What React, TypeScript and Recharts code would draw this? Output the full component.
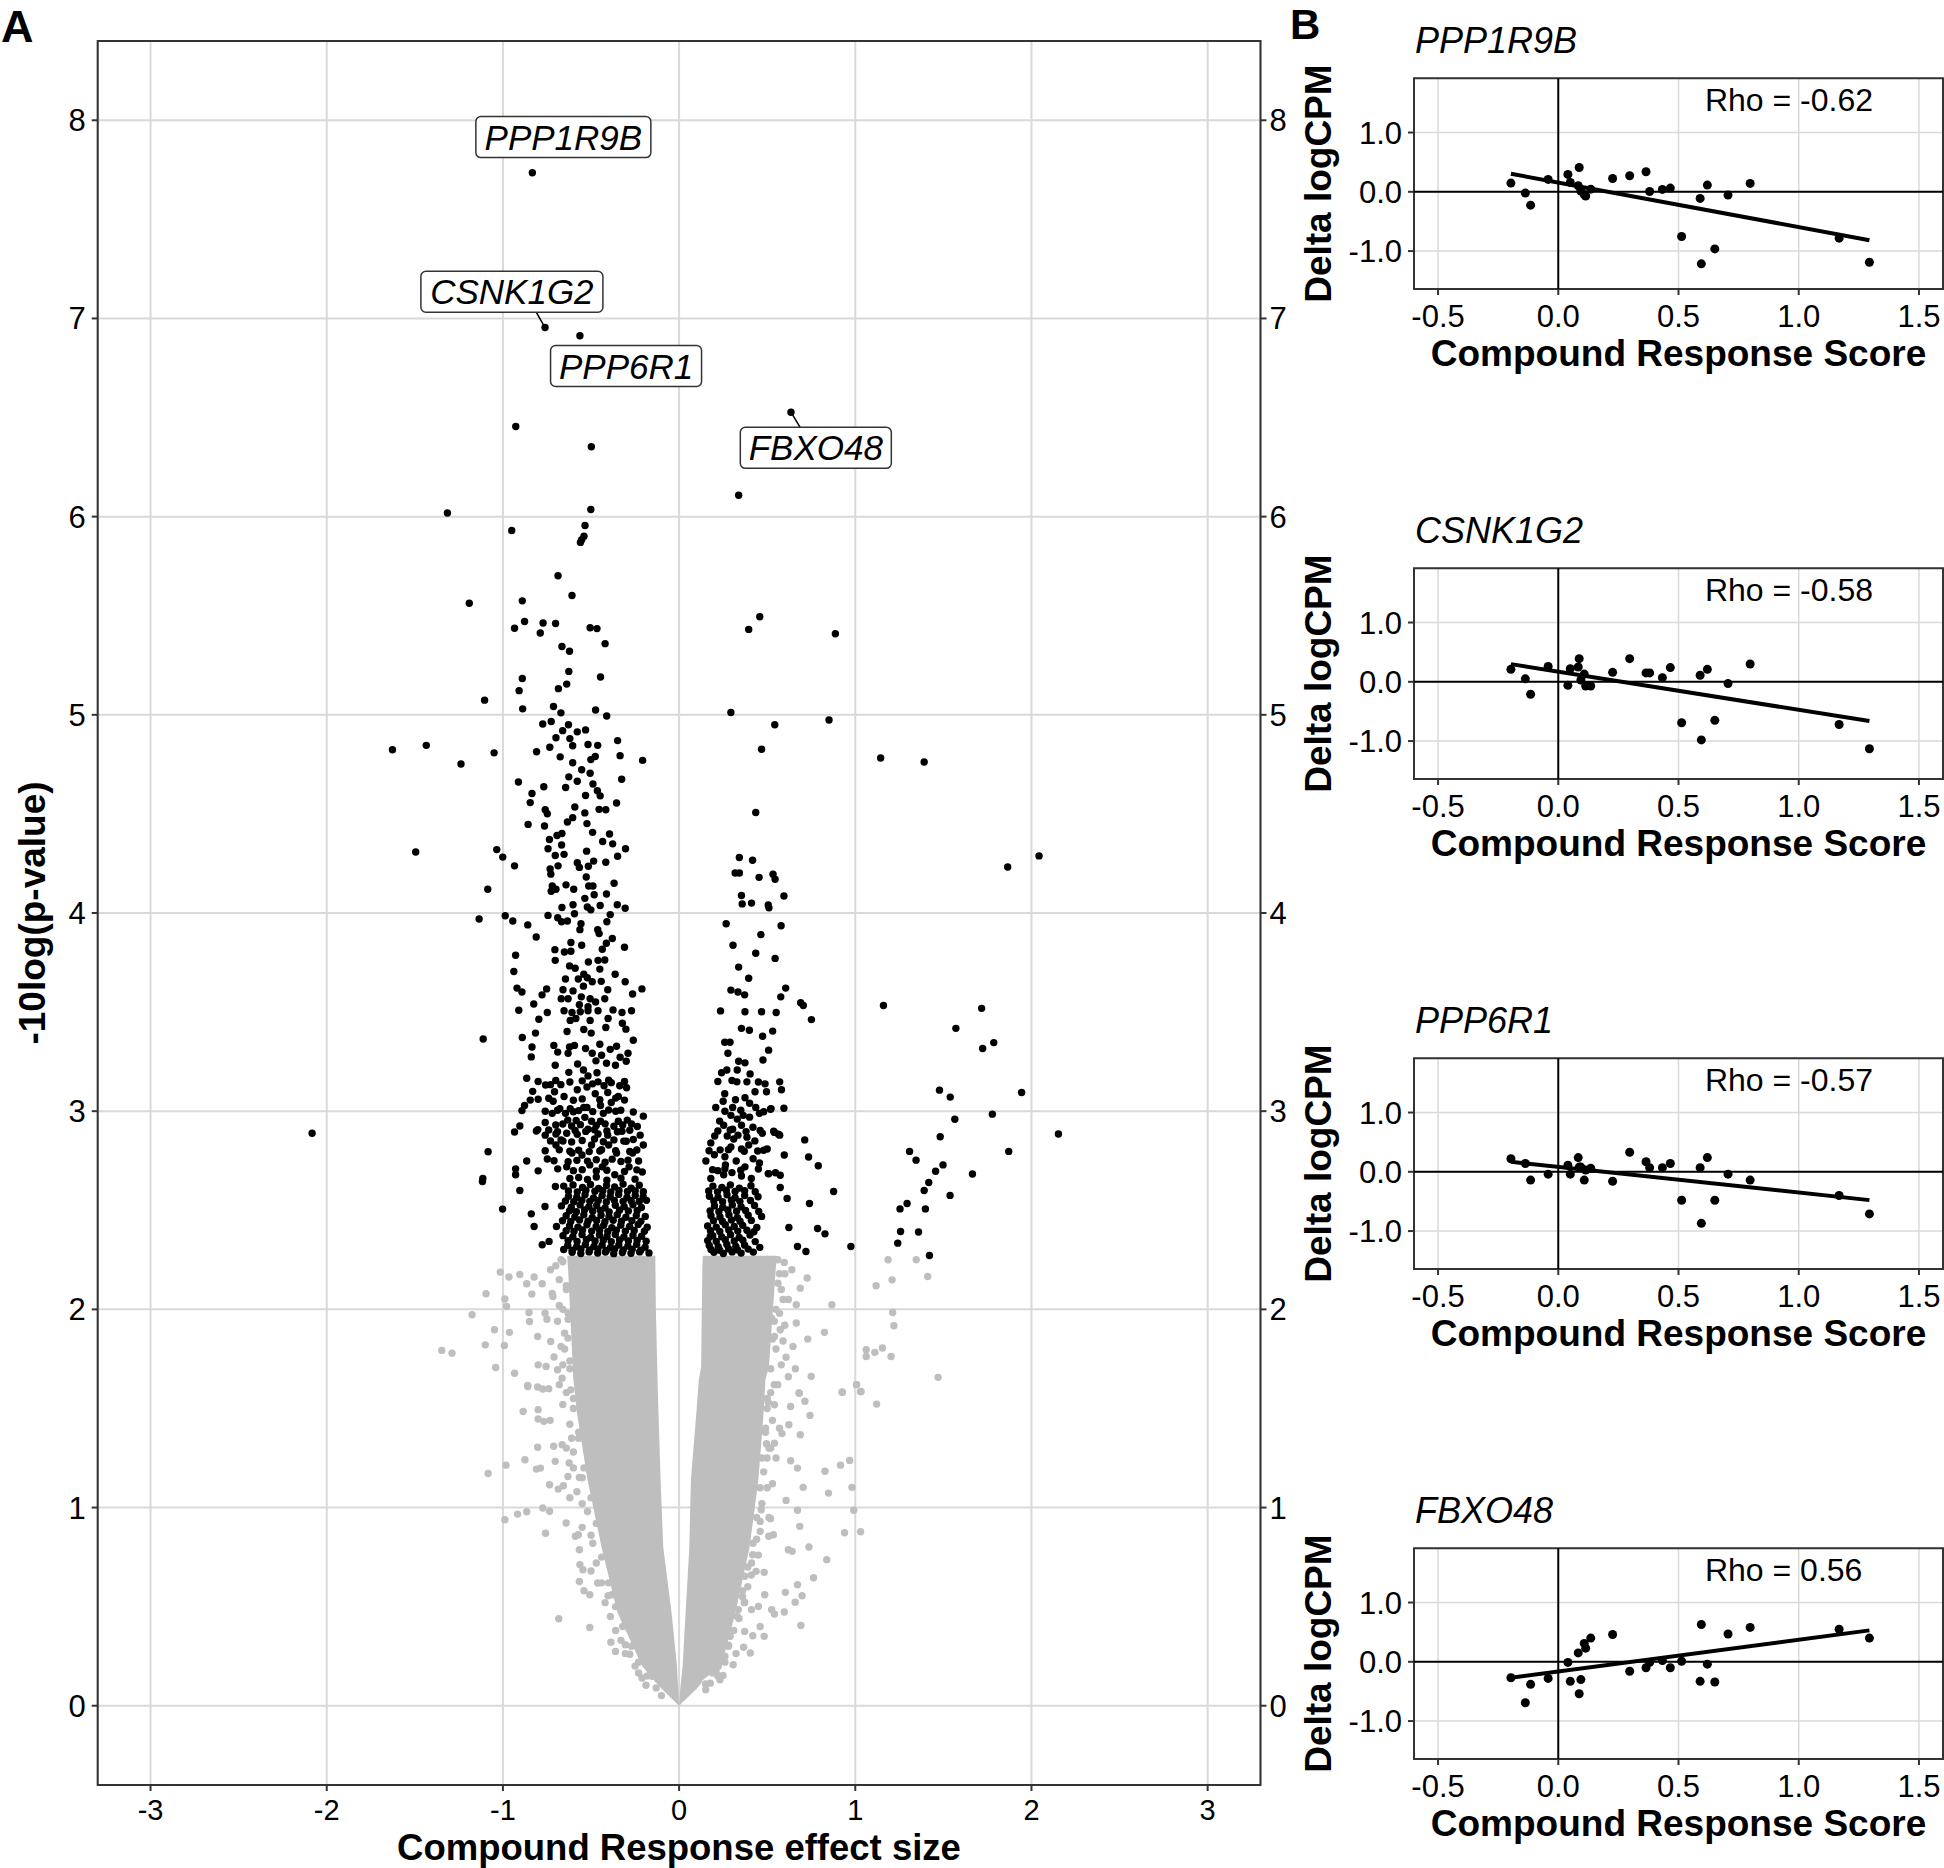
import React from 'react';
import {
  ComposedChart,
  Scatter,
  Area,
  Line,
  XAxis,
  YAxis,
  CartesianGrid,
  ReferenceLine,
  ReferenceArea,
} from 'recharts';

const FONT = '"Liberation Sans", Arial, Helvetica, sans-serif';
const GREY = '#BEBEBE';
const BORDER = '#333333';
const GRID = '#D9D9D9';

// ---------------- Panel A data ----------------
const volcanoXTicks = [-3, -2, -1, 0, 1, 2, 3];
const volcanoYTicks = [0, 1, 2, 3, 4, 5, 6, 7, 8];

// significant genes (black)
const sigTop: [number, number][] = [
  [-0.833, 7.735], [-0.761, 6.954], [-0.563, 6.913], [0.635, 6.527], [-0.927, 6.455], [-0.498, 6.353],
  [0.338, 6.108], [-1.315, 6.018], [-0.501, 6.036], [-0.95, 5.93], [-0.534, 5.955], [-0.54, 5.901],
  [-0.553, 5.883], [-0.56, 5.87],
];

const sigLeft: [number, number][] = [
  [-0.687,5.702],[-0.608,5.602],[-1.191,5.563],[-0.890,5.575],[-0.934,5.437],[-0.877,5.471],[-0.772,5.463],[-0.788,5.413],[-0.701,5.461],[-0.505,5.439],[-0.466,5.435],[-0.420,5.359],[-0.665,5.345],[-0.622,5.321],[-0.626,5.219],[-0.890,5.183],[-0.446,5.191],[-0.638,5.155],[-0.685,5.132],[-0.908,5.122],[-1.104,5.074],[-0.888,5.030],[-0.713,5.042],[-0.671,5.010],[-0.474,5.024],[-0.411,4.994],[-0.774,4.954],[-0.726,4.966],[-0.628,4.950],[-0.578,4.914],[-0.531,4.924],[-0.661,4.920],[-0.699,4.884],[-0.620,4.880],[-0.604,4.844],[-0.734,4.836],[-0.517,4.850],[-0.462,4.846],[-0.349,4.870],[-1.627,4.824],[-1.435,4.846],[-1.238,4.752],[-1.050,4.808],[-0.809,4.814],[-0.675,4.788],[-0.476,4.790],[-0.501,4.774],[-0.335,4.794],[-0.207,4.770],[-0.604,4.758],[-0.553,4.723],[-0.505,4.705],[-0.626,4.687],[-0.578,4.665],[-0.912,4.661],[-0.768,4.637],[-0.644,4.633],[-0.489,4.651],[-0.326,4.675],[-0.835,4.603],[-0.531,4.593],[-0.464,4.617],[-0.448,4.591],[-0.845,4.557],[-0.355,4.555],[-0.592,4.535],[-0.454,4.523],[-0.416,4.521],[-0.760,4.521],[-0.748,4.501],[-0.535,4.505],[-0.604,4.481],[-0.634,4.459],[-0.857,4.447],[-0.764,4.439],[-0.523,4.451],[-0.665,4.401],[-0.693,4.391],[-0.491,4.407],[-0.395,4.399],[-0.736,4.371],[-0.434,4.361],[-0.377,4.349],[-0.667,4.343],[-0.744,4.324],[-0.525,4.312],[-0.304,4.324],[-1.495,4.308],[-1.035,4.320],[-1.001,4.282],[-0.703,4.290],[-0.653,4.296],[-0.349,4.286],[-0.934,4.238],[-0.578,4.254],[-0.485,4.262],[-0.416,4.256],[-0.732,4.222],[-0.687,4.238],[-0.566,4.230],[-0.515,4.236],[-0.728,4.196],[-0.527,4.182],[-1.086,4.120],[-0.720,4.136],[-0.642,4.142],[-0.598,4.120],[-0.513,4.136],[-0.489,4.136],[-0.369,4.150],[-0.726,4.110],[-0.699,4.120],[-0.535,4.074],[-0.482,4.092],[-0.412,4.096],[-0.665,4.028],[-0.602,4.042],[-0.521,4.030],[-0.448,4.038],[-0.351,4.042],[-0.306,4.024],[-1.135,3.970],[-0.987,3.986],[-0.944,3.960],[-0.859,3.940],[-0.744,3.988],[-0.689,3.976],[-0.667,3.956],[-0.634,3.960],[-0.594,3.996],[-0.557,3.946],[-0.501,4.016],[-0.391,3.992],[-0.410,3.956],[-0.811,3.879],[-0.563,3.916],[-0.462,3.916],[-0.454,3.896],[-0.413,3.847],[-0.379,3.871],[-0.310,3.827],[-0.614,3.851],[-0.553,3.837],[-0.705,3.815],[-0.651,3.803],[-0.614,3.807],[-0.436,3.817],[-0.928,3.787],[-0.703,3.761],[-0.622,3.733],[-0.515,3.753],[-0.460,3.761],[-0.422,3.763],[-0.938,3.705],[-0.590,3.721],[-0.541,3.691],[-0.450,3.717],[-0.363,3.691],[-0.645,3.667],[-0.572,3.667],[-0.521,3.673],[-0.493,3.653],[-0.442,3.655],[-0.306,3.653],[-0.920,3.621],[-0.892,3.601],[-0.752,3.617],[-0.659,3.613],[-0.602,3.607],[-0.543,3.631],[-0.405,3.613],[-0.264,3.591],[-0.211,3.617],[-0.778,3.587],[-0.669,3.567],[-0.630,3.567],[-0.555,3.577],[-0.505,3.567],[-0.422,3.567],[-0.825,3.541],[-0.566,3.537],[-0.517,3.527],[-0.474,3.551],[-0.910,3.509],[-0.748,3.498],[-0.653,3.507],[-0.608,3.498],[-0.561,3.502],[-0.517,3.507],[-0.460,3.507],[-0.375,3.511],[-0.324,3.498],[-0.270,3.507],[-0.796,3.464],[-0.618,3.458],[-0.586,3.468],[-0.505,3.458],[-0.403,3.468],[-0.322,3.444],[-0.636,3.402],[-0.541,3.412],[-0.499,3.394],[-0.416,3.422],[-1.112,3.364],[-0.815,3.394],[-0.890,3.372],[-0.302,3.414],[-0.260,3.358],[-0.835,3.324],[-0.711,3.332],[-0.622,3.324],[-0.594,3.332],[-0.531,3.316],[-0.450,3.338],[-0.391,3.312],[-0.355,3.328],[-0.839,3.274],[-0.689,3.298],[-0.630,3.292],[-0.493,3.292],[-0.440,3.282],[-0.290,3.292],[-0.335,3.272],[-0.576,3.238],[-0.472,3.254],[-0.412,3.242],[-0.361,3.232],[-0.300,3.252],[-0.703,3.232],[-0.626,3.196],[-0.543,3.208],[-0.466,3.194],[-0.517,3.178],[-0.865,3.166],[-0.758,3.132],[-0.730,3.134],[-0.671,3.134],[-0.578,3.108],[-0.523,3.122],[-0.491,3.138],[-0.426,3.128],[-0.385,3.144],[-0.337,3.128],[-0.831,3.100],[-0.707,3.098],[-0.653,3.074],[-0.476,3.088],[-0.405,3.094],[-0.345,3.074],[-0.298,3.118],[-0.877,3.029],[-0.845,3.056],[-0.715,3.050],[-0.677,3.013],[-0.618,3.013],[-0.541,3.019],[-0.523,3.019],[-0.446,3.029],[-0.385,3.044],[-0.331,3.005],[-0.892,3.003],[-0.720,2.989],[-0.645,2.989],[-0.430,2.989],[-0.203,2.975],[-2.083,2.889],[-1.084,2.795],[-0.904,2.925],[-0.934,2.895],[-0.802,2.907],[-0.760,2.943],[-0.632,2.955],[-0.584,2.953],[-0.535,2.969],[-0.497,2.949],[-0.446,2.949],[-0.345,2.949],[-0.294,2.955],[-0.237,2.923],[-0.760,2.879],[-0.699,2.885],[-0.638,2.889],[-0.578,2.883],[-0.517,2.909],[-0.460,2.885],[-0.405,2.879],[-0.324,2.899],[-0.221,2.879],[-0.865,2.749],[-0.800,2.699],[-0.748,2.759],[-0.699,2.829],[-0.659,2.849],[-0.608,2.789],[-0.551,2.779],[-0.497,2.829],[-0.450,2.799],[-0.400,2.829],[-0.355,2.789],[-0.314,2.849],[-0.264,2.789],[-0.203,2.829],[-0.209,2.693],[-0.928,2.709],[-0.928,2.679],[-0.689,2.709],[-0.638,2.719],[-0.507,2.729],[-0.436,2.719],[-0.365,2.679],[-0.284,2.719],[-1.114,2.660],
  [-1.116,2.645],[-1.002,2.506],[-0.904,2.600],[-0.839,2.482],[-0.823,2.418],[-0.777,2.326],[-0.738,2.343],[-0.761,2.519],[-0.696,2.418],[-0.702,2.620],
  [-0.62,2.66],[-0.57,2.665],[-0.52,2.655],[-0.47,2.668],[-0.41,2.652],[-0.33,2.662],[-0.25,2.657],
  [-0.60,2.70],[-0.55,2.705],[-0.47,2.698],[-0.41,2.702],[-0.31,2.696],[-0.24,2.704],
  [-0.71,2.75],[-0.63,2.745],[-0.58,2.752],[-0.52,2.748],[-0.47,2.755],[-0.42,2.742],[-0.38,2.758],[-0.33,2.746],[-0.29,2.753],[-0.23,2.749],
  [-0.76,2.80],[-0.68,2.805],[-0.62,2.798],[-0.57,2.803],[-0.51,2.796],[-0.44,2.806],[-0.36,2.8],[-0.28,2.797],[-0.24,2.804],
  [-0.73,2.85],[-0.67,2.855],[-0.61,2.845],[-0.55,2.852],[-0.48,2.86],[-0.43,2.846],[-0.37,2.855],[-0.3,2.848],[-0.26,2.857],
  [-0.81,2.90],[-0.74,2.905],[-0.69,2.897],[-0.59,2.903],[-0.53,2.898],[-0.48,2.906],[-0.41,2.9],[-0.35,2.896],[-0.28,2.904],
  [-0.70,2.93],[-0.66,2.935],[-0.61,2.925],[-0.56,2.932],[-0.47,2.928],[-0.42,2.936],[-0.37,2.924],[-0.32,2.93],[-0.27,2.935],
  [-0.76,3.0],[-0.69,3.005],[-0.60,2.997],[-0.57,3.003],[-0.49,2.998],[-0.40,3.006],[-0.36,3.0],[-0.26,2.996],
  [-0.8,3.06],[-0.74,3.065],[-0.6,3.055],[-0.55,3.062],[-0.45,3.058],[-0.36,3.066],[-0.31,3.056],
  [-0.80,3.15],[-0.70,3.155],[-0.62,3.147],[-0.55,3.153],[-0.46,3.148],[-0.40,3.156],[-0.31,3.15],
];

const sigLeftBase: [number, number][] = [
  [-0.655,2.622],[-0.602,2.628],[-0.548,2.615],[-0.503,2.63],[-0.457,2.61],[-0.412,2.625],[-0.366,2.618],[-0.318,2.632],[-0.272,2.612],[-0.226,2.626],
  [-0.628,2.597],[-0.578,2.593],[-0.529,2.601],[-0.478,2.596],[-0.433,2.599],[-0.388,2.592],[-0.341,2.6],[-0.293,2.595],[-0.249,2.598],[-0.203,2.594],
  [-0.628,2.571],[-0.581,2.566],[-0.534,2.578],[-0.486,2.562],[-0.437,2.574],[-0.391,2.569],[-0.343,2.58],[-0.296,2.565],[-0.249,2.575],[-0.204,2.568],
  [-0.645,2.547],[-0.598,2.543],[-0.552,2.551],[-0.507,2.545],[-0.459,2.549],[-0.413,2.542],[-0.368,2.55],[-0.318,2.545],[-0.272,2.548],[-0.226,2.544],[-0.185,2.55],
  [-0.668,2.522],[-0.612,2.515],[-0.562,2.527],[-0.512,2.518],[-0.468,2.524],[-0.42,2.512],[-0.362,2.525],[-0.312,2.519],[-0.262,2.528],[-0.214,2.514],
  [-0.622,2.497],[-0.583,2.493],[-0.537,2.501],[-0.49,2.495],[-0.446,2.499],[-0.397,2.492],[-0.338,2.5],[-0.288,2.496],[-0.238,2.498],
  [-0.641,2.472],[-0.592,2.466],[-0.541,2.477],[-0.493,2.463],[-0.443,2.475],[-0.398,2.468],[-0.351,2.478],[-0.302,2.465],[-0.243,2.473],[-0.192,2.469],
  [-0.662,2.447],[-0.615,2.443],[-0.565,2.451],[-0.517,2.445],[-0.468,2.449],[-0.421,2.442],[-0.374,2.45],[-0.327,2.445],[-0.268,2.448],[-0.217,2.444],
  [-0.622,2.421],[-0.574,2.415],[-0.523,2.427],[-0.471,2.418],[-0.428,2.424],[-0.382,2.412],[-0.331,2.425],[-0.281,2.419],[-0.232,2.428],[-0.181,2.414],
  [-0.641,2.397],[-0.597,2.393],[-0.548,2.401],[-0.496,2.395],[-0.451,2.399],[-0.405,2.392],[-0.356,2.4],[-0.305,2.395],[-0.255,2.398],[-0.197,2.394],
  [-0.659,2.372],[-0.603,2.366],[-0.551,2.377],[-0.502,2.363],[-0.452,2.375],[-0.409,2.368],[-0.362,2.378],[-0.313,2.365],[-0.262,2.373],[-0.213,2.369],
  [-0.63,2.347],[-0.579,2.343],[-0.526,2.351],[-0.477,2.345],[-0.43,2.349],[-0.385,2.342],[-0.338,2.35],[-0.288,2.345],[-0.238,2.348],[-0.187,2.344],
  [-0.632,2.322],[-0.581,2.316],[-0.532,2.327],[-0.483,2.318],[-0.437,2.324],[-0.389,2.312],[-0.342,2.325],[-0.291,2.319],[-0.241,2.328],[-0.193,2.314],
  [-0.655,2.302],[-0.607,2.298],[-0.557,2.305],[-0.508,2.3],[-0.461,2.304],[-0.413,2.297],[-0.366,2.305],[-0.317,2.3],[-0.266,2.303],[-0.217,2.299],
  [-0.607,2.288],[-0.558,2.282],[-0.511,2.29],[-0.462,2.284],[-0.418,2.289],[-0.371,2.281],[-0.322,2.287],[-0.273,2.283],[-0.224,2.29],[-0.171,2.285],
];

const sigRight: [number, number][] = [
  [0.458,5.495],[0.395,5.431],[0.887,5.409],[0.294,5.012],[0.543,4.950],[0.851,4.974],[0.468,4.826],[0.435,4.507],[0.342,4.280],[0.417,4.266],[0.318,4.202],[0.342,4.202],[0.454,4.180],[0.533,4.196],[0.545,4.170],[0.595,4.086],[0.354,4.088],[0.358,4.046],[0.411,4.050],[0.506,4.040],[0.510,4.026],[0.267,3.946],[0.579,3.936],[0.464,3.891],[0.306,3.837],[0.435,3.797],[0.545,3.771],[0.338,3.727],[0.395,3.671],[0.294,3.611],[0.334,3.601],[0.372,3.587],[0.605,3.621],[0.577,3.577],[0.690,3.547],[0.705,3.533],[0.751,3.462],[0.235,3.506],[0.374,3.502],[0.468,3.502],[0.551,3.498],[0.354,3.418],[0.399,3.408],[0.474,3.378],[0.531,3.404],[0.259,3.348],[0.289,3.348],[0.277,3.292],[0.508,3.308],[0.338,3.252],[0.374,3.244],[0.476,3.258],[0.241,3.194],[0.271,3.208],[0.330,3.208],[0.403,3.188],[0.488,3.138],[0.571,3.148],[0.328,3.148],[0.385,3.148],[0.431,3.098],[0.259,3.088],[0.320,3.058],[0.374,3.068],[0.496,3.098],[0.581,3.108],[0.208,3.019],[0.304,3.019],[0.435,3.019],[0.522,3.013],[0.595,3.015],[0.294,2.979],[0.364,2.979],[0.456,2.989],[0.253,2.929],[0.304,2.909],[0.354,2.929],[0.419,2.919],[0.202,2.875],[0.273,2.875],[0.334,2.879],[0.385,2.869],[0.472,2.889],[0.537,2.899],[0.571,2.879],[0.713,2.855],[0.233,2.805],[0.294,2.819],[0.354,2.809],[0.395,2.829],[0.446,2.799],[0.500,2.809],[0.597,2.779],[0.735,2.769],[0.790,2.725],[0.152,2.749],[0.263,2.729],[0.324,2.749],[0.374,2.719],[0.456,2.739],[0.547,2.689],[0.253,2.679],[0.354,2.673],[0.506,2.685],
  [0.177,2.368],[0.877,2.595],[0.740,2.534],[0.786,2.408],[0.828,2.381],[0.672,2.317],[0.720,2.292],[0.975,2.317],[0.623,2.413],[0.613,2.560],[0.574,2.615],[0.509,2.684],[0.574,2.677],[0.541,2.893],[0.564,2.884],[0.519,3.010],
  [0.18,2.66],[0.22,2.7],[0.3,2.69],[0.41,2.66],[0.2,2.78],[0.26,2.77],[0.42,2.76],[0.18,2.84],[0.31,2.86],[0.43,2.85],[0.23,2.95],[0.33,2.96],[0.4,2.97],[0.25,3.05],[0.4,3.04],
  [0.19,2.705],[0.26,2.71],[0.35,2.702],[0.45,2.708],[0.17,2.80],[0.28,2.806],[0.37,2.798],[0.48,2.803],[0.22,2.90],[0.29,2.905],[0.38,2.897],[0.46,2.903],[0.26,3.0],[0.35,3.005],[0.48,2.997],[0.22,3.15],[0.30,3.155],[0.45,3.147],
  [0.192,2.622],[0.243,2.615],[0.291,2.628],[0.342,2.612],[0.408,2.624],
  [0.168,2.597],[0.218,2.593],[0.268,2.601],[0.318,2.595],[0.372,2.599],[0.432,2.594],
  [0.172,2.571],[0.221,2.566],[0.272,2.578],[0.318,2.563],[0.372,2.574],[0.448,2.568],
  [0.197,2.547],[0.247,2.543],[0.297,2.551],[0.345,2.545],[0.405,2.549],
  [0.201,2.522],[0.248,2.515],[0.302,2.527],[0.352,2.518],[0.428,2.524],
  [0.176,2.497],[0.226,2.493],[0.277,2.501],[0.326,2.495],[0.377,2.499],[0.452,2.494],
  [0.181,2.472],[0.232,2.466],[0.283,2.477],[0.331,2.463],[0.392,2.475],[0.468,2.469],
  [0.195,2.447],[0.246,2.443],[0.297,2.451],[0.346,2.445],[0.41,2.449],
  [0.162,2.421],[0.211,2.415],[0.262,2.427],[0.313,2.418],[0.361,2.424],[0.441,2.413],
  [0.178,2.397],[0.231,2.393],[0.282,2.401],[0.333,2.395],[0.385,2.399],[0.425,2.392],
  [0.191,2.372],[0.242,2.366],[0.292,2.377],[0.341,2.363],[0.402,2.375],
  [0.162,2.347],[0.211,2.343],[0.262,2.351],[0.313,2.345],[0.362,2.349],[0.432,2.342],
  [0.171,2.322],[0.222,2.316],[0.271,2.327],[0.322,2.318],[0.372,2.324],[0.458,2.313],
  [0.181,2.302],[0.231,2.298],[0.281,2.305],[0.332,2.3],[0.392,2.304],
  [0.198,2.288],[0.251,2.282],[0.301,2.29],[0.352,2.284],[0.421,2.289],
];

const sigFarRight: [number, number][] = [
  [1.144,4.782],[1.391,4.762],[1.865,4.232],[2.043,4.288],[1.160,3.533],[1.717,3.519],[1.571,3.418],[1.786,3.346],[1.723,3.316],[1.478,3.106],[1.539,3.071],[1.944,3.094],[1.565,2.959],[1.778,2.985],[1.482,2.871],[2.153,2.885],[1.308,2.797],[1.345,2.753],[1.871,2.797],[1.498,2.729],[1.456,2.697],[1.665,2.683],[1.417,2.640],[1.391,2.600],[1.538,2.575],[1.294,2.534],[1.254,2.507],[1.398,2.507],[1.257,2.393],[1.359,2.390],[1.241,2.334],[1.421,2.272],
];

// non-significant genes (grey)
const nsOutliers: [number, number][] = [
  [1.186,2.25],[1.346,2.25],[1.411,2.166],[1.209,2.149],[1.118,2.119],[1.212,1.984],[1.219,1.917],[1.062,1.796],[1.111,1.783],[1.154,1.805],[1.203,1.762],[1.062,1.762],[1.47,1.657],[1.007,1.62],[1.03,1.584],[0.926,1.581],[0.867,2.023],[0.825,1.884],[0.75,1.662],[0.682,1.577],[0.727,2.158],[0.688,2.107],[0.665,2.023],[0.665,1.931],[0.73,1.85],[0.607,1.759],[0.646,1.813],[0.597,2.237],[0.561,2.132],[0.525,1.956],[0.574,1.897],[0.541,1.863],[0.509,2.065],
  [-1.015,2.188],[-1.096,2.079],[-1.175,1.973],[-1.347,1.793],[-1.289,1.779],[-1.1,1.821],[-1.041,1.707],[-0.989,2.052],[-0.979,2.015],[-1.048,1.897],[-0.963,1.884],[-0.992,1.818],[-0.934,1.678],[-0.966,2.163],[-0.904,2.176],[-0.865,2.129],[-0.823,2.163],[-0.836,2.077],[-0.852,1.984],[-0.849,1.939],[-0.803,1.863],[-0.761,1.981],[-0.777,2.129],[-0.716,2.065],[-0.859,1.616],[-0.803,1.608],[-0.8,1.72],[-0.755,1.712],[-0.729,1.838],[-0.69,1.695],[-0.664,1.653],[-0.67,1.813],[-0.631,1.855],[-0.615,1.594],
  [-1.084,1.172],[-0.983,1.214],[-0.989,0.939],[-0.917,0.967],[-0.865,0.979],[-0.774,0.998],[-0.735,0.981],[-0.758,0.870],[-0.641,0.922],[-0.683,0.439],[-0.507,0.395],[-0.875,1.241],[-0.803,1.304],[-0.810,1.194],[-0.787,1.199],[-0.885,1.485],[-0.800,1.494],[-0.800,1.447],[-0.768,1.435],[-0.732,1.440],[-0.859,1.611],[-0.774,1.598],[-0.712,1.309],[-0.664,1.317],[-0.703,1.233],[-0.735,1.115],[-0.686,1.093],[-0.657,1.110],[-0.631,1.157],[-0.566,1.152],[-0.624,1.225],[-0.572,0.863],[-0.589,0.855],[-0.566,0.787],[-0.563,0.712],[-0.546,0.686],[-0.566,0.627],[-0.540,0.580],[-0.507,0.560],[-0.462,0.619],[-0.403,0.555],[-0.387,0.320],[-0.361,0.274],[-0.305,0.263],[-0.305,0.308],[-0.230,0.165],[-0.188,0.103],[-0.149,0.148],[-0.100,0.051],
  [0.681,1.578],[0.714,1.536],[0.743,1.465],[0.926,1.583],[1.007,1.62],[1.033,1.586],[1.121,1.522],[0.506,1.531],[0.541,1.519],[0.633,1.510],[0.623,1.418],[0.584,1.373],[0.688,1.367],[0.541,1.325],[0.496,1.322],[0.499,1.250],[0.633,1.236],[0.672,1.199],[0.828,1.183],[0.916,1.214],[0.968,1.238],[0.704,1.102],[0.848,1.073],[0.981,1.102],[0.991,0.986],[0.607,1.036],[0.672,0.986],[0.466,0.989],[0.519,0.944],[0.685,0.905],[0.939,0.873],[1.030,0.878],[0.535,0.863],[0.509,0.855],[0.620,0.787],[0.642,0.779],[0.737,0.801],[0.838,0.737],[0.418,0.762],[0.411,0.720],[0.437,0.678],[0.483,0.673],[0.372,0.653],[0.763,0.646],[0.672,0.611],[0.603,0.572],[0.698,0.555],[0.486,0.560],[0.659,0.522],[0.372,0.522],[0.336,0.485],[0.411,0.485],[0.450,0.501],[0.597,0.473],[0.525,0.485],[0.541,0.463],[0.691,0.405],[0.460,0.400],[0.372,0.375],[0.418,0.353],[0.483,0.350],[0.281,0.305],[0.366,0.295],[0.323,0.263],[0.404,0.266],[0.239,0.224],[0.307,0.207],[0.222,0.199],[0.190,0.165],[0.249,0.153],[0.232,0.131],[0.177,0.114],[0.151,0.081],
];

const nsCoreEdge: [number, number][] = [
  [-0.64,2.1],[-0.63,1.95],[-0.62,1.7],[-0.6,1.55],[-0.57,1.35],[-0.54,1.2],[-0.5,1.05],[-0.47,0.92],[-0.44,0.75],[-0.4,0.62],[-0.36,0.5],[-0.32,0.4],[-0.27,0.3],[-0.23,0.22],[-0.18,0.15],[-0.13,0.09],
  [-0.66,2.24],[-0.68,2.02],[-0.65,1.8],[-0.61,1.35],[-0.55,1.02],[-0.49,0.82],[-0.38,0.56],
  [-0.70,2.22],[-0.68,2.15],[-0.72,2.08],[-0.66,2.0],[-0.69,1.94],[-0.65,1.88],[-0.71,1.76],[-0.66,1.72],[-0.68,1.62],[-0.64,1.58],[-0.73,2.2],[-0.67,2.25],[-0.64,2.12],[-0.63,1.98],[-0.62,1.74],[-0.75,1.95],[-0.74,1.6],
  [-0.6,1.5],[-0.62,1.42],[-0.57,1.38],[-0.6,1.28],[-0.55,1.15],[-0.58,1.08],[-0.52,0.98],[-0.55,0.9],[-0.5,0.86],[-0.47,0.72],[-0.5,0.68],[-0.44,0.62],[-0.42,0.52],[-0.39,0.45],[-0.36,0.38],[-0.33,0.33],[-0.28,0.26],[-0.25,0.2],[-0.21,0.14],[-0.66,1.52],[-0.64,1.3],[-0.6,1.2],[-0.62,1.05],
  [0.57,2.18],[0.55,2.0],[0.53,1.85],[0.52,1.7],[0.5,1.55],[0.49,1.4],[0.47,1.25],[0.46,1.1],[0.44,0.95],[0.42,0.82],[0.39,0.7],[0.36,0.58],[0.33,0.45],[0.29,0.35],[0.26,0.25],[0.21,0.17],[0.15,0.11],
  [0.59,2.05],[0.54,1.62],[0.51,1.3],[0.46,0.88],[0.37,0.52],
  [0.56,2.25],[0.6,2.18],[0.58,2.1],[0.62,2.05],[0.57,1.98],[0.6,1.92],[0.55,1.8],[0.58,1.72],[0.62,1.66],[0.56,1.62],[0.52,1.58],[0.64,2.2],[0.66,1.7],[0.54,1.94],[0.59,1.84],
  [0.5,1.5],[0.53,1.44],[0.49,1.38],[0.52,1.3],[0.48,1.18],[0.5,1.1],[0.47,1.02],[0.46,0.93],[0.44,0.84],[0.45,0.76],[0.41,0.66],[0.39,0.6],[0.36,0.55],[0.34,0.44],[0.31,0.38],[0.28,0.3],[0.26,0.22],[0.22,0.15],[0.55,1.25],[0.57,1.4],[0.53,1.12],[0.51,0.95],
];

// dense grey core of the volcano, read as band envelopes (x, lower y, upper y)
const coreLeftX = [-0.635, -0.63, -0.6, -0.58, -0.52, -0.44, -0.35, -0.21, -0.135, -0.132, -0.12, -0.105, -0.09, -0.043, -0.012, -0.006];
const coreLeftLow = [2.27, 2.2, 1.645, 1.48, 1.14, 0.8, 0.47, 0.2, 0.12, 0.118, 0.105, 0.092, 0.078, 0.037, 0.01, 0.005];
const coreLeftHigh = [2.27, 2.27, 2.27, 2.27, 2.27, 2.27, 2.27, 2.27, 2.27, 2.0, 1.56, 1.14, 0.8, 0.47, 0.2, 0.1];
const coreRightX = [0.006, 0.02, 0.037, 0.058, 0.067, 0.098, 0.112, 0.125, 0.132, 0.135, 0.24, 0.32, 0.4, 0.45, 0.48, 0.49, 0.51, 0.55, 0.555];
const coreRightLow = [0.005, 0.017, 0.031, 0.05, 0.058, 0.085, 0.098, 0.112, 0.126, 0.13, 0.2, 0.47, 0.8, 1.14, 1.48, 1.645, 1.71, 2.22, 2.27];
const coreRightHigh = [0.08, 0.2, 0.47, 0.8, 1.14, 1.48, 1.645, 1.71, 2.22, 2.27, 2.27, 2.27, 2.27, 2.27, 2.27, 2.27, 2.27, 2.27, 2.27];

// labelled genes
const labelGenes = ['PPP1R9B', 'CSNK1G2', 'PPP6R1', 'FBXO48'];
const labelX = [-0.657, -0.949, -0.301, 0.776];
const labelY = [7.915, 7.135, 6.76, 6.347];
const segFrom: [number, number][] = [[-0.761, 6.954], [0.635, 6.527]];
const segTo: [number, number][] = [[-0.81, 7.031], [0.687, 6.45]];

// ---------------- Panel B data ----------------
const crScore = [-0.197, -0.137, -0.115, -0.042, 0.04, 0.05, 0.083, 0.087, 0.094, 0.108, 0.114, 0.135, 0.226, 0.297, 0.365, 0.38, 0.433, 0.466, 0.513, 0.59, 0.595, 0.62, 0.651, 0.706, 0.798, 1.168, 1.294];
const dPPP1R9B = [0.147, -0.022, -0.225, 0.209, 0.293, 0.158, 0.102, 0.41, 0.012, -0.045, -0.07, 0.045, 0.225, 0.27, 0.338, 0.006, 0.04, 0.063, -0.754, -0.112, -1.216, 0.113, -0.963, -0.056, 0.141, -0.782, -1.188];
const dCSNK1G2 = [0.21, 0.05, -0.21, 0.26, -0.06, 0.22, 0.25, 0.39, 0.03, 0.13, -0.07, -0.07, 0.16, 0.39, 0.15, 0.15, 0.07, 0.24, -0.69, 0.11, -0.98, 0.21, -0.65, -0.03, 0.3, -0.72, -1.13];
const dPPP6R1 = [0.22, 0.14, -0.14, -0.04, 0.11, -0.04, 0.24, 0.08, 0.08, -0.14, 0.03, 0.06, -0.16, 0.33, 0.17, 0.07, 0.07, 0.14, -0.48, 0.07, -0.87, 0.24, -0.48, -0.04, -0.14, -0.4, -0.71];
const dFBXO48 = [-0.27, -0.69, -0.38, -0.28, -0.01, -0.33, 0.15, -0.54, -0.3, 0.31, 0.23, 0.4, 0.46, -0.16, -0.1, -0.01, 0.02, -0.1, 0.01, -0.33, 0.63, -0.04, -0.34, 0.47, 0.58, 0.55, 0.4];
const geneNames = ['PPP1R9B', 'CSNK1G2', 'PPP6R1', 'FBXO48'];
const geneDeltas = [dPPP1R9B, dCSNK1G2, dPPP6R1, dFBXO48];
const rhoLabels = ['Rho = -0.62', 'Rho = -0.58', 'Rho = -0.57', 'Rho = 0.56'];
const fitX = [-0.197, 1.294];
const fitStartY = [0.304, 0.298, 0.169, -0.27];
const fitEndY = [-0.816, -0.663, -0.478, 0.53];
const rhoPos = [0.61, 1.37];
const bXTicks = [-0.5, 0, 0.5, 1, 1.5];
const bYTicks = [-1, 0, 1];

// ---------------- styles ----------------
const labelBoxW: Record<string, number> = { PPP1R9B: 175, CSNK1G2: 182, PPP6R1: 151, FBXO48: 151 };
const toPts = (arr: [number, number][]) => arr.map(([x, y]) => ({ x, y }));

const greyDot = (p: any) => <circle cx={p.cx} cy={p.cy} r={3.7} fill={GREY} />;
const blackDot = (p: any) => <circle cx={p.cx} cy={p.cy} r={3.7} fill="#000" />;
const bDot = (p: any) => <circle cx={p.cx} cy={p.cy} r={4.5} fill="#000" />;

const labelShape = (p: any) => {
  const name = p.payload.gene;
  const w = labelBoxW[name] || 160;
  return (
    <g>
      <rect x={p.cx - w / 2} y={p.cy - 20.5} width={w} height={41} rx={5} ry={5} fill="#fff" stroke={BORDER} strokeWidth={1.5} />
      <text x={p.cx} y={p.cy + 12.5} textAnchor="middle" fontSize={35} fontStyle="italic" fontFamily={FONT} fill="#000">
        {name}
      </text>
    </g>
  );
};

const tickStyle = { fontSize: 31, fill: '#000', fontFamily: FONT };
const xTickStyleA = { fontSize: 29, fill: '#000', fontFamily: FONT };
const tickLineStyle = { stroke: BORDER, strokeWidth: 2 };

function VolcanoChart() {
  const coreRows = [
    ...coreLeftX.map((x, i) => ({ x, L: [coreLeftLow[i], coreLeftHigh[i]], R: [0, 0] })),
    { x: 0, L: [0, 0], R: [0, 0] },
    ...coreRightX.map((x, i) => ({ x, L: [0, 0], R: [coreRightLow[i], coreRightHigh[i]] })),
  ];
  const nsData = toPts([...nsOutliers, ...nsCoreEdge]);
  const sigData = toPts([...sigLeftBase, ...sigLeft, ...sigRight, ...sigFarRight, ...sigTop]);
  const labelData = labelGenes.map((gene, i) => ({ x: labelX[i], y: labelY[i], gene }));
  return (
    <ComposedChart width={1300} height={1868} data={coreRows} margin={{ top: 41, right: 9.5, bottom: 43, left: 37.7 }}>
      <CartesianGrid stroke={GRID} strokeWidth={2} />
      <XAxis
        type="number"
        dataKey="x"
        domain={[-3.3, 3.3]}
        ticks={volcanoXTicks}
        interval={0}
        allowDataOverflow
        height={40}
        tickSize={6}
        tickMargin={8}
        axisLine={false}
        tickLine={tickLineStyle}
        tick={xTickStyleA}
      />
      <YAxis
        type="number"
        dataKey="y"
        domain={[-0.4, 8.4]}
        ticks={volcanoYTicks}
        interval={0}
        allowDataOverflow
        width={60}
        tickSize={6}
        tickMargin={6}
        axisLine={false}
        tickLine={tickLineStyle}
        tick={tickStyle}
      />
      <YAxis
        yAxisId="r"
        orientation="right"
        type="number"
        domain={[-0.4, 8.4]}
        ticks={volcanoYTicks}
        interval={0}
        allowDataOverflow
        width={30}
        tickSize={6}
        tickMargin={3}
        axisLine={false}
        tickLine={tickLineStyle}
        tick={tickStyle}
      />
      <Area dataKey="L" type="linear" stroke="none" fill={GREY} fillOpacity={1} isAnimationActive={false} dot={false} activeDot={false} />
      <Area dataKey="R" type="linear" stroke="none" fill={GREY} fillOpacity={1} isAnimationActive={false} dot={false} activeDot={false} />
      <Scatter data={nsData} shape={greyDot} isAnimationActive={false} />
      <Scatter data={sigData} shape={blackDot} isAnimationActive={false} />
      {segFrom.map((s, i) => (
        <ReferenceLine
          key={i}
          segment={[{ x: s[0], y: s[1] }, { x: segTo[i][0], y: segTo[i][1] }]}
          stroke="#000"
          strokeWidth={1.5}
        />
      ))}
      <Scatter data={labelData} shape={labelShape} isAnimationActive={false} />
      <ReferenceArea x1={-3.3} x2={3.3} y1={-0.4} y2={8.4} fill="none" fillOpacity={0} stroke={BORDER} strokeWidth={2} />
    </ComposedChart>
  );
}

function GenePanel({ idx }: { idx: number }) {
  const top = idx * 490;
  const h = idx === 3 ? 1868 - top : 490;
  const fit = [
    { x: fitX[0], fit: fitStartY[idx] },
    { x: fitX[1], fit: fitEndY[idx] },
  ];
  const pts = crScore.map((x, i) => ({ x, y: geneDeltas[idx][i] }));
  const rho = rhoLabels[idx];
  const rhoShape = (p: any) => (
    <text x={p.cx} y={p.cy} fontSize={32} fontFamily={FONT} fill="#000">
      {rho}
    </text>
  );
  const f1 = (v: number) => v.toFixed(1);
  return (
    <div style={{ position: 'absolute', left: 1300, top, width: 644, height: h }}>
      <ComposedChart width={644} height={h} data={fit} margin={{ top: 68.3, right: 1, bottom: h - 289 - 40, left: 64 }}>
        <CartesianGrid stroke={GRID} strokeWidth={1.5} />
        <XAxis
          type="number"
          dataKey="x"
          domain={[-0.6, 1.6]}
          ticks={bXTicks}
          interval={0}
          allowDataOverflow
          height={40}
          tickSize={6}
          tickMargin={10}
          axisLine={false}
          tickLine={tickLineStyle}
          tick={tickStyle}
          tickFormatter={f1}
        />
        <XAxis
          xAxisId="top"
          orientation="top"
          type="number"
          dataKey="x"
          domain={[-0.6, 1.6]}
          ticks={bXTicks}
          interval={0}
          allowDataOverflow
          height={10}
          tickSize={6}
          axisLine={false}
          tickLine={tickLineStyle}
          tick={false}
        />
        <YAxis
          type="number"
          dataKey="y"
          domain={[-1.64, 1.915]}
          ticks={bYTicks}
          interval={0}
          allowDataOverflow
          width={50}
          tickSize={6}
          tickMargin={6}
          axisLine={false}
          tickLine={tickLineStyle}
          tick={tickStyle}
          tickFormatter={f1}
        />
        <ReferenceLine x={0} stroke="#000" strokeWidth={2} />
        <ReferenceLine y={0} stroke="#000" strokeWidth={2} />
        <Scatter data={pts} shape={bDot} isAnimationActive={false} />
        <Line dataKey="fit" type="linear" stroke="#000" strokeWidth={4} dot={false} activeDot={false} isAnimationActive={false} />
        <Scatter data={[{ x: rhoPos[0], y: rhoPos[1] }]} shape={rhoShape} isAnimationActive={false} />
        <ReferenceArea x1={-0.6} x2={1.6} y1={-1.64} y2={1.915} fill="none" fillOpacity={0} stroke={BORDER} strokeWidth={2} />
      </ComposedChart>
    </div>
  );
}

export default function App() {
  return (
    <div style={{ position: 'absolute', left: 0, top: 0, width: 1944, height: 1868, overflow: 'hidden', background: '#fff' }}>
      <div style={{ position: 'absolute', left: 0, top: 0, width: 1300, height: 1868 }}>
        <VolcanoChart />
      </div>
      {geneNames.map((g, i) => (
        <GenePanel key={g} idx={i} />
      ))}
      <svg width={1944} height={1868} style={{ position: 'absolute', left: 0, top: 0, pointerEvents: 'none' }}>
        <text x={1} y={42} fontSize={45} fontWeight="bold" fontFamily={FONT} fill="#000">A</text>
        <text x={1290} y={39} fontSize={42} fontWeight="bold" fontFamily={FONT} fill="#000">B</text>
        <text x={679} y={1860} textAnchor="middle" fontSize={36.5} fontWeight="bold" fontFamily={FONT} fill="#000">
          Compound Response effect size
        </text>
        <text transform="translate(45,913) rotate(-90)" textAnchor="middle" fontSize={37} fontWeight="bold" fontFamily={FONT} fill="#000">
          -10log(p-value)
        </text>
        {geneNames.map((g, i) => (
          <g key={g}>
            <text x={1415} y={52.5 + 490 * i} fontSize={36} fontStyle="italic" fontFamily={FONT} fill="#000">{g}</text>
            <text transform={`translate(1331,${183.6 + 490 * i}) rotate(-90)`} textAnchor="middle" fontSize={37} fontWeight="bold" fontFamily={FONT} fill="#000">
              Delta logCPM
            </text>
            <text x={1678.5} y={366 + 490 * i} textAnchor="middle" fontSize={37} fontWeight="bold" fontFamily={FONT} fill="#000">
              Compound Response Score
            </text>
          </g>
        ))}
      </svg>
    </div>
  );
}
